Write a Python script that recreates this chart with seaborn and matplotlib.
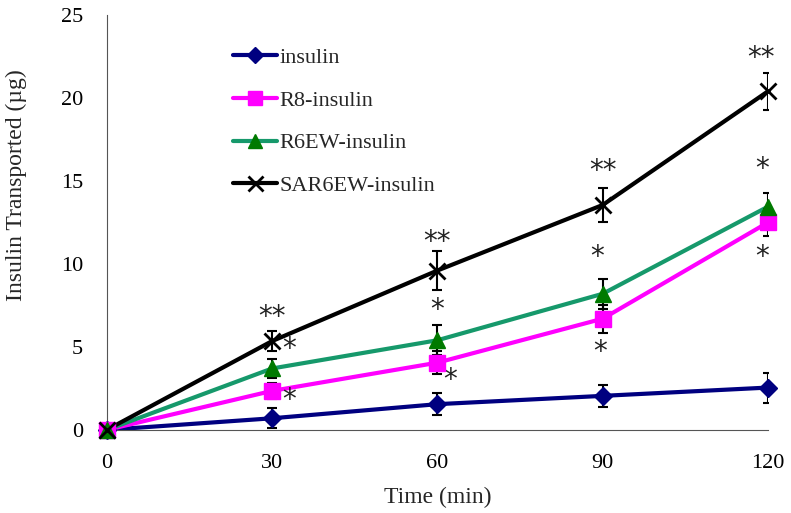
import numpy as np
import pandas as pd
import matplotlib
matplotlib.use("Agg")
import matplotlib.pyplot as plt
import seaborn as sns
from matplotlib.lines import Line2D

# Data
time_min = [0, 30, 60, 90, 120]
insulin = [0, 0.7, 1.55, 2.05, 2.55]
insulin_err = [0, 0.6, 0.65, 0.65, 0.9]
r8 = [0, 2.35, 4.05, 6.7, 12.5]
r8_err = [0, 0.5, 0.7, 0.85, 0.8]
r6ew = [0, 3.7, 5.4, 8.2, 13.45]
r6ew_err = [0, 0.55, 0.9, 0.9, 0.85]
sar6ew = [0, 5.35, 9.6, 13.55, 20.4]
sar6ew_err = [0, 0.6, 1.15, 1.0, 1.1]

labels = ["insulin", "R8-insulin", "R6EW-insulin", "SAR6EW-insulin"]
line_colors = ["#000080", "#FF00FF", "#16996B", "#000000"]
marker_colors = ["#000080", "#FF00FF", "#007A00", "#000000"]
markers = ["D", "s", "^", "x"]
msizes = [9, 11, 11, 12]

# significance stars: (time, y, text)
stars = [
    (30, 6.8, "**"), (33, 4.9, "*"), (33, 1.8, "*"),
    (60, 11.3, "**"), (60, 7.2, "*"), (62.3, 3.0, "*"),
    (90, 15.6, "**"), (89, 10.4, "*"), (89.5, 4.7, "*"),
    (118.8, 22.4, "**"), (119, 15.7, "*"), (119, 10.4, "*"),
]

df = pd.DataFrame({
    "time": time_min * 4,
    "value": insulin + r8 + r6ew + sar6ew,
    "err": insulin_err + r8_err + r6ew_err + sar6ew_err,
    "series": sum([[l] * len(time_min) for l in labels], []),
})

sns.set_style("white")
plt.rcParams["font.family"] = ["Liberation Serif", "DejaVu Serif"]

fig, ax = plt.subplots(figsize=(7.91, 5.13), dpi=100)
fig.subplots_adjust(left=0.135, right=0.971, bottom=0.162, top=0.971)

sns.lineplot(data=df, x="time", y="value", hue="series", hue_order=labels,
             palette=line_colors, linewidth=3, legend=False, ax=ax, zorder=2)

for lab, mc, mk, ms in zip(labels, marker_colors, markers, msizes):
    sub = df[df["series"] == lab]
    ax.errorbar(sub["time"], sub["value"], yerr=sub["err"], fmt="none",
                ecolor="black", elinewidth=1.5, capsize=3.5, capthick=1.5, zorder=3)
    ax.plot(sub["time"], sub["value"], linestyle="none", marker=mk, color=mc,
            markersize=ms, markeredgewidth=2 if mk == "x" else 1, zorder=4,
            clip_on=False)

for x, y, t in stars:
    ax.text(x, y, t, ha="center", va="center", fontsize=20, color="#222222",
            family="DejaVu Sans")

ax.set_xlim(0, 120)
ax.set_ylim(0, 25)
ax.set_xticks(time_min)
ax.set_yticks([0, 5, 10, 15, 20, 25])
ax.tick_params(axis="both", direction="in", length=5, width=0.8, labelsize=16, pad=17)
ax.set_xlabel("Time (min)", fontsize=17, labelpad=10)
ax.set_ylabel("Insulin Transported (\u00b5g)", fontsize=17)
ax.yaxis.set_label_coords(-0.12, 0.59)
for side in ["top", "right"]:
    ax.spines[side].set_visible(False)
for side in ["left", "bottom"]:
    ax.spines[side].set_color("#555555")
    ax.spines[side].set_linewidth(0.8)
ax.tick_params(colors="#555555", labelcolor="black")

handles = [Line2D([0], [0], color=lc, lw=3, marker=mk, markerfacecolor=mc,
                  markeredgecolor=mc, markersize=ms * 0.9,
                  markeredgewidth=2 if mk == "x" else 1)
           for lc, mc, mk, ms in zip(line_colors, marker_colors, markers, msizes)]
ax.legend(handles, labels, loc="upper left", bbox_to_anchor=(0.16, 0.97),
          frameon=False, fontsize=16, handlelength=2.0, handletextpad=0.1,
          labelspacing=1.0)

fig.savefig("out.png", dpi=100)
